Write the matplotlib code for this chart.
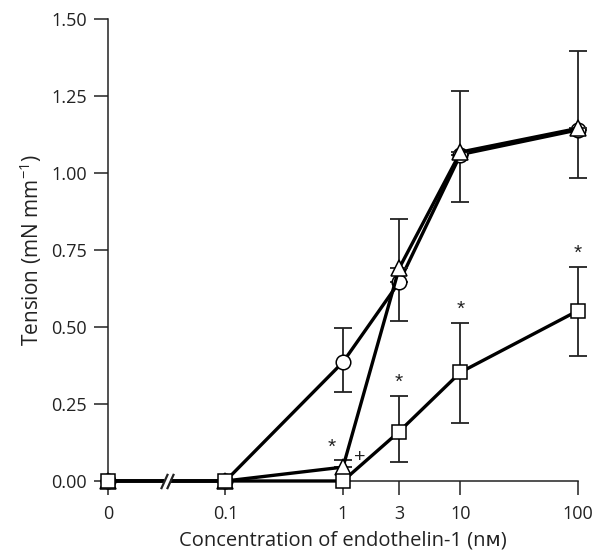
import numpy as np
import matplotlib
matplotlib.use("Agg")
import matplotlib.pyplot as plt
from matplotlib.transforms import offset_copy

plt.rcParams['font.family'] = ['Open Sans', 'DejaVu Sans']
plt.rcParams['mathtext.default'] = 'regular'

# concentrations of endothelin-1 (nM)
conc = [0, 0.1, 1, 3, 10, 100]
tick_labels = ["0", "0.1", "1", "3", "10", "100"]

# circles
circle = [0, 0, 0.386, 0.645, 1.06, 1.14]
circle_lo = [0, 0, 0.097, 0.125, 0.155, 0.155]
circle_hi = [0, 0, 0.111, 0, 0, 0]

# triangles
triangle = [0, 0, 0.045, 0.69, 1.068, 1.145]
triangle_lo = [0, 0, 0, 0, 0, 0]
triangle_hi = [0, 0, 0.023, 0.16, 0.198, 0.25]

# squares
square = [0, 0, 0, 0.16, 0.353, 0.553]
square_lo = [0, 0, 0, 0.098, 0.164, 0.147]
square_hi = [0, 0, 0, 0.116, 0.159, 0.143]

# significance marks: (series, index, symbol, dx in points, dy above bar top in points)
marks = [
    ("triangle", 2, "*", -8, 2),
    ("triangle", 2, "+", 12, -4),
    ("square", 3, "*", 0, 3),
    ("square", 4, "*", 0, 3),
    ("square", 5, "*", 0, 3),
]


def xpos(c):
    # 0 is put one decade below 0.1 on the log axis
    return np.array([np.log10(v) if v > 0 else -2 for v in c])


x = xpos(conc)

fig = plt.figure(figsize=(6.02, 5.54), dpi=100)
ax = fig.add_axes([0.1794, 0.1318, 0.7807, 0.8339])

series = {
    "circle": (circle, circle_lo, circle_hi, "o", 10.5),
    "triangle": (triangle, triangle_lo, triangle_hi, "^", 11.5),
    "square": (square, square_lo, square_hi, "s", 10),
}

z = 3
for name, (vals, lo, hi, mk, ms) in series.items():
    vals = np.array(vals)
    lo = np.array(lo)
    hi = np.array(hi)
    has_err = (lo + hi) > 0
    ax.errorbar(x[has_err], vals[has_err], yerr=[lo[has_err], hi[has_err]],
                fmt="none", ecolor="#222222", elinewidth=1.3, capsize=6.5,
                capthick=1.3, zorder=z, clip_on=False)
    ax.plot(x, vals, color="black", lw=2.4, marker=mk, ms=ms,
            mfc="white", mec="black", mew=1.1, zorder=z + 0.5, clip_on=False)
    z += 1

for name, idx, sym, dx, dy in marks:
    vals, lo, hi, mk, ms = series[name]
    top = vals[idx] + hi[idx]
    ax.annotate(sym, xy=(x[idx], top), xytext=(dx, dy), textcoords="offset points",
                ha="center", va="bottom", fontsize=15 if sym == "*" else 14,
                family=["Liberation Sans"], color="#222222")

# axis break between 0 and 0.1
xb = (x[0] + x[1]) / 2
ax.plot([xb], [0], marker="s", ms=5, mfc="white", mec="none", zorder=10, clip_on=False)
for dx in (-2.2, 2.2):
    tr = offset_copy(ax.transData, fig=fig, x=dx, y=0, units="points")
    ax.plot([xb], [0], marker=[(-0.45, -1), (0.45, 1)], ms=11, mec="#222222",
            mew=1.6, transform=tr, zorder=11, clip_on=False)

ax.set_xlim(-2, 2)
ax.set_ylim(0, 1.5)
ax.set_xticks(x)
ax.set_xticklabels(tick_labels)
ax.set_yticks([0, 0.25, 0.5, 0.75, 1.0, 1.25, 1.5])
ax.set_yticklabels(["0.00", "0.25", "0.50", "0.75", "1.00", "1.25", "1.50"])

for side in ["top", "right"]:
    ax.spines[side].set_visible(False)
for side in ["left", "bottom"]:
    ax.spines[side].set_linewidth(1.1)
    ax.spines[side].set_color("#222222")

ax.tick_params(axis="both", direction="out", length=10, width=1.1, labelsize=13,
               color="#222222", labelcolor="#222222")
ax.tick_params(axis="y", pad=5)
ax.tick_params(axis="x", pad=7)

ax.set_xlabel("Concentration of endothelin-1 (n\u1d0d)", fontsize=14.5, labelpad=6,
              color="#222222")
ax.set_ylabel("Tension (mN mm$^{-1}$)", fontsize=15, labelpad=5, color="#222222")

fig.savefig("out.png", dpi=100)
